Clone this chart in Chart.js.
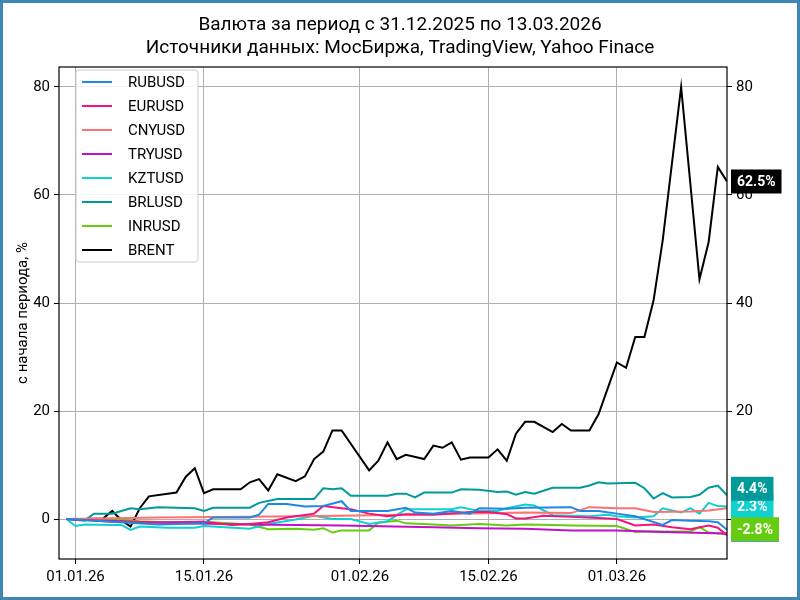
<!DOCTYPE html>
<html><head><meta charset="utf-8">
<script src="https://cdn.jsdelivr.net/npm/chart.js@4/dist/chart.umd.min.js"></script>
<style>html,body{margin:0;padding:0;background:#fff}#w{width:800px;height:600px}</style>
</head><body><div id="w"><canvas id="c" width="800" height="600"></canvas></div>
<script>
const titleLines = ["Валюта за период с 31.12.2025 по 13.03.2026", "Источники данных: МосБиржа, TradingView, Yahoo Finace"];
const yTitle = "с начала периода, %";
const tickDays = [1, 15, 32, 46, 60];
const tickLabels = ["01.01.26", "15.01.26", "01.02.26", "15.02.26", "01.03.26"];
const names = ["RUBUSD","EURUSD","CNYUSD","TRYUSD","KZTUSD","BRLUSD","INRUSD","BRENT"];
const colors = ["#1e88e5","#f0147c","#ff7070","#c010c8","#10d0d0","#009a9a","#66cc10","#000000"];

const rubDays = [0,5,10,15,16,20,21,22,24,26,28,30,31,35,37,38,40,42,44,45,48,50,55,56,58,60,62,65,66,68,70,71,72];
const rubVals = [0,-0.5,-1,-0.8,0.3,0.3,0.8,2.8,2.8,2.3,2.4,3.3,1.5,1.5,2.1,1.2,1,1.5,1,2,1.9,2.1,2.2,1.5,1.5,1,0.5,-1.1,-0.2,-0.3,-0.4,-0.6,-2.0];
const eurDays = [0,5,10,15,18,20,22,24,27,28,30,31,33,35,37,40,44,46,48,49,50,52,55,58,60,62,64,66,68,70,71,72];
const eurVals = [0,-0.5,-0.6,-0.5,-1.1,-0.9,-0.6,0.3,1,2.4,2,1.8,1,0.5,0.9,0.8,1.3,1.3,0.9,0.1,0.1,0.6,0.4,0.2,0,-1.2,-1,-1.5,-1.9,-1.2,-1.6,-3];
const cnyDays = [0,10,20,30,40,50,55,57,60,62,64,68,70,72];
const cnyVals = [0,0.3,0.4,0.6,0.9,1.2,1.1,2.2,2,2,1.3,1.4,1.6,2.0];
const tryDays = [0,10,20,30,40,45,50,55,60,65,72];
const tryVals = [0,-0.7,-1,-1.2,-1.5,-1.7,-1.8,-2.1,-2.1,-2.4,-2.7];
const kztDays = [0,1,2,5,6,7,8,11,14,15,20,22,25,27,29,31,33,35,37,40,42,43,45,47,48,50,51,53,55,57,59,60,62,64,65,67,68,69,70,71,72];
const kztVals = [0,-1.3,-1,-1.1,-1.1,-2,-1.4,-1.6,-1.6,-1.3,-1.8,-0.9,-0.1,0.6,0,0,-0.9,-0.4,1.8,1.8,1.8,2.2,1.5,1.5,2,2.7,2.5,0.7,0.6,0.5,0.8,0.5,0.3,0.5,2,1.2,2,1,3,2.4,2.3];
const brlDays = [0,2,3,5,6,7,8,10,14,15,16,20,21,23,27,28,29,30,31,35,36,37,38,39,42,43,45,47,48,49,50,51,53,56,57,58,59,62,63,64,65,66,68,69,70,71,72];
const brlVals = [0,-0.3,1,1,1.5,2,1.8,2.2,2,1.5,2.1,2.1,3,3.7,3.7,5.7,5.5,5.7,4.3,4.3,4.7,4.7,4,4.9,4.9,5.5,5.4,5,5.1,4.5,5,4.7,5.8,5.8,6.2,6.8,6.6,6.7,5.7,3.8,4.8,4,4.1,4.5,5.8,6.2,4.4];
const inrDays = [0,5,8,12,15,20,22,25,27,28,29,30,33,34,36,37,40,42,45,48,50,53,55,60,62,63,66,68,69,70,72];
const inrVals = [0,0,-0.4,-0.7,-0.5,-1,-1.9,-1.8,-2,-1.7,-2.5,-2.1,-2.1,-0.7,-0.3,-0.8,-1,-1.2,-0.9,-1.2,-1,-1.1,-1.2,-1.3,-2.4,-2.3,-2.3,-2.3,-1.5,-2.5,-2.8];
const brentDays = [0,2,4,5,6,7,8,9,12,13,14,15,16,19,20,21,22,23,25,26,27,28,29,30,33,34,35,36,37,39,40,41,42,43,44,46,47,48,49,50,51,53,54,55,57,58,60,61,62,63,64,65,67,69,70,71,72];
const brentVals = [0,0,0.1,1.5,-0.2,-1.4,2,4.2,4.9,7.8,9.4,4.8,5.5,5.5,6.8,7.4,5.3,8.3,7,7.9,11.1,12.5,16.4,16.4,9,10.8,14.2,11.1,11.9,11.1,13.6,13.2,14.2,11,11.4,11.4,12.9,10.8,15.8,18,18,16.1,17.6,16.4,16.4,19.4,29,28,33.7,33.7,40.5,51.7,80,44.4,51.3,65.2,62.5];
const endLabels = [
  {i:0, text:"-0.5%", color:"#1e88e5"},
  {i:4, text:"2.3%", color:"#10d0d0"},
  {i:5, text:"4.4%", color:"#009a9a"},
  {i:6, text:"-2.8%", color:"#66cc10"},
  {i:7, text:"62.5%", color:"#000000"}
];
const labelOffsets = [0, 0, 1.2, 0.9, 0];

const allDays=[rubDays,eurDays,cnyDays,tryDays,kztDays,brlDays,inrDays,brentDays];
const allVals=[rubVals,eurVals,cnyVals,tryVals,kztVals,brlVals,inrVals,brentVals];
const datasets = names.map((n,k)=>({label:n, data:allDays[k].map((d,j)=>({x:d,y:allVals[k][j]})), borderColor:colors[k], backgroundColor:colors[k], borderWidth:2, pointRadius:0, tension:0}));

const F = "Roboto, 'DejaVu Sans', sans-serif";
const deco = {
  id:'deco',
  afterDatasetsDraw(ch){
    const c=ch.ctx, ca=ch.chartArea, y=ch.scales.y;
    c.save();
    c.strokeStyle='#000'; c.lineWidth=1.2; c.strokeRect(ca.left,ca.top,ca.right-ca.left,ca.bottom-ca.top);
    c.font="bold 14px "+F; c.textBaseline='middle'; c.textAlign='left';
    endLabels.forEach((L,k)=>{
      const yy=y.getPixelForValue(allVals[L.i][allVals[L.i].length-1]+labelOffsets[k]);
      const w=c.measureText(L.text).width+12;
      c.fillStyle=L.color; c.fillRect(ca.right+4,yy-12,w,24);
      c.fillStyle='#fff'; c.fillText(L.text,ca.right+10,yy+1);
    });
    c.fillStyle='rgba(255,255,255,0.85)'; c.strokeStyle='#ccc'; c.lineWidth=1;
    c.beginPath(); c.roundRect(76,70,122,192,3); c.fill(); c.stroke();
    c.font="15px "+F;
    names.forEach((n,k)=>{
      const yy=82+k*24;
      c.strokeStyle=colors[k]; c.lineWidth=2; c.beginPath(); c.moveTo(82,yy); c.lineTo(112,yy); c.stroke();
      c.fillStyle='#000'; c.fillText(n,128,yy+1);
    });
    c.textAlign='center'; c.font="19px "+F; c.fillStyle='#000';
    c.fillText(titleLines[0],400,25); c.fillText(titleLines[1],400,48);
    c.save(); c.translate(23,(ca.top+ca.bottom)/2); c.rotate(-Math.PI/2); c.font="15px "+F; c.fillText(yTitle,0,0); c.restore();
    c.strokeStyle='#3f86b8'; c.lineWidth=3; c.strokeRect(1.5,1.5,797,597);
    c.restore();
  }
};
const tickFont={family:F,size:15};
new Chart(document.getElementById('c'),{
  type:'line',
  data:{datasets},
  options:{
    responsive:false, animation:false, devicePixelRatio:1,
    layout:{padding:{top:67,left:0,right:0,bottom:0}},
    plugins:{legend:{display:false},title:{display:false},tooltip:{enabled:false}},
    scales:{
      x:{type:'linear',min:-0.8,max:72,
        afterBuildTicks(s){s.ticks=tickDays.map(v=>({value:v}));},
        afterFit(s){s.height=41;},
        ticks:{callback:(v)=>{const i=tickDays.indexOf(v);return i>=0?tickLabels[i]:'';},color:'#000',font:tickFont,maxRotation:0,autoSkip:false,padding:4},
        grid:{color:'#b0b0b0',tickColor:'#000',tickLength:5,drawOnChartArea:true},border:{display:false}},
      y:{min:-7.4,max:83.7,
        afterBuildTicks(s){s.ticks=[0,20,40,60,80].map(v=>({value:v}));},
        afterFit(s){s.width=59;},
        ticks:{color:'#000',font:tickFont,padding:4},
        grid:{color:'#b0b0b0',tickColor:'#000',tickLength:5},border:{display:false}},
      y2:{position:'right',min:-7.4,max:83.7,
        afterBuildTicks(s){s.ticks=[0,20,40,60,80].map(v=>({value:v}));},
        afterFit(s){s.width=73;},
        ticks:{color:'#000',font:tickFont,padding:4},
        grid:{drawOnChartArea:false,tickColor:'#000',tickLength:5},border:{display:false}}
    }
  },
  plugins:[deco]
});
</script></body></html>
